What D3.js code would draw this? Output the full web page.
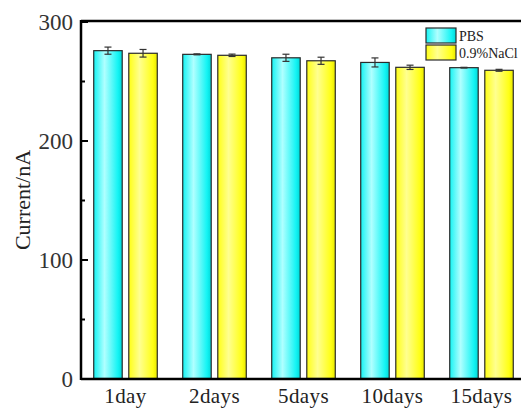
<!DOCTYPE html>
<html>
<head>
<meta charset="utf-8">
<script src="https://cdn.jsdelivr.net/npm/d3@7"></script>
<style>
  body { margin: 0; background: #fff; }
  svg { display: block; }
  text { font-family: "Liberation Serif", "Times New Roman", serif; fill: #222; }
</style>
</head>
<body>
<div id="chart"></div>
<script>
var categories = ["1day", "2days", "5days", "10days", "15days"];
var seriesNames = ["PBS", "0.9%NaCl"];
var pbsValues = [275.5, 272.4, 269.5, 265.6, 261.2];
var pbsErrors = [3.0, 0.4, 3.0, 3.8, 0.3];
var naclValues = [273.3, 271.6, 267.0, 261.5, 259.0];
var naclErrors = [3.2, 1.0, 3.0, 1.8, 0.8];
var yMajorTicks = [0, 100, 200, 300];
var yMinorTicks = [50, 150, 250];

var chartMain = function() {

	var width = 521, height = 409;
	var left = 81, top = 21, bottom = 379;

	var svg = d3.select("#chart").append("svg")
		.attr("width", width)
		.attr("height", height);

	var defs = svg.append("defs");

	//horizontal shading for bars, like the origin style
	var makeGradient = function(id, edge, light, dark) {
		var g = defs.append("linearGradient").attr("id", id)
			.attr("x1", "0%").attr("x2", "100%").attr("y1", "0%").attr("y2", "0%");
		g.append("stop").attr("offset", "0%").attr("stop-color", edge);
		g.append("stop").attr("offset", "38%").attr("stop-color", light);
		g.append("stop").attr("offset", "85%").attr("stop-color", edge);
		g.append("stop").attr("offset", "100%").attr("stop-color", dark);
	};
	makeGradient("gradCyan", "#14f4f4", "#b0ffff", "#00d8d8");
	makeGradient("gradYellow", "#ffff14", "#ffff90", "#e8e800");

	var x = d3.scaleLinear().domain([0.5, categories.length + 0.5]).range([left, 526]);
	var y = d3.scaleLinear().domain([0, 300]).range([378.5, 21.5]);

	var barWidth = x(0.32) - x(0);
	var offset = x(0.197) - x(0);

	var series = [
		{ name: seriesNames[0], values: pbsValues, errors: pbsErrors, fill: "url(#gradCyan)", shift: -offset },
		{ name: seriesNames[1], values: naclValues, errors: naclErrors, fill: "url(#gradYellow)", shift: offset }
	];

	series.forEach(function(s) {

		var g = svg.append("g");

		g.selectAll("rect")
			.data(s.values)
			.enter()
			.append("rect")
			.attr("x", function(d, i) { return x(i + 1) + s.shift - barWidth / 2; })
			.attr("y", function(d) { return y(d); })
			.attr("width", barWidth)
			.attr("height", function(d) { return y(0) - y(d); })
			.style("fill", s.fill)
			.style("stroke", "#2a2a2a")
			.style("stroke-width", 1.2);

		//error bars
		var eb = g.selectAll(".err")
			.data(s.values)
			.enter()
			.append("g")
			.attr("class", "err")
			.style("stroke", "#333")
			.style("stroke-width", 1.2);

		eb.append("line")
			.attr("x1", function(d, i) { return x(i + 1) + s.shift; })
			.attr("x2", function(d, i) { return x(i + 1) + s.shift; })
			.attr("y1", function(d, i) { return y(d + s.errors[i]); })
			.attr("y2", function(d, i) { return y(d - s.errors[i]); });

		[1, -1].forEach(function(sign) {
			eb.append("line")
				.attr("x1", function(d, i) { return x(i + 1) + s.shift - 3.5; })
				.attr("x2", function(d, i) { return x(i + 1) + s.shift + 3.5; })
				.attr("y1", function(d, i) { return y(d + sign * s.errors[i]); })
				.attr("y2", function(d, i) { return y(d + sign * s.errors[i]); });
		});
	});

	//y axis, ticks pointing inwards
	var yAxis = svg.append("g")
		.attr("transform", "translate(" + left + ",0)")
		.call(d3.axisLeft(y).tickValues(yMajorTicks).tickSize(-7).tickPadding(8).tickFormat(d3.format("d")));
	yAxis.select(".domain").remove();
	yAxis.selectAll("line").style("stroke", "#000").style("stroke-width", 2);
	yAxis.selectAll("text")
		.style("font-size", "23px")
		.style("font-family", "Liberation Serif, serif")
		.style("fill", "#333")
		.attr("dy", "0.36em");

	var yMinor = svg.append("g")
		.attr("transform", "translate(" + left + ",0)")
		.call(d3.axisLeft(y).tickValues(yMinorTicks).tickSize(-4).tickFormat(""));
	yMinor.select(".domain").remove();
	yMinor.selectAll("line").style("stroke", "#000").style("stroke-width", 2);

	//frame lines
	svg.append("line").attr("x1", left).attr("x2", left).attr("y1", top - 1).attr("y2", bottom + 1)
		.style("stroke", "#000").style("stroke-width", 2.5);
	svg.append("line").attr("x1", left).attr("x2", width).attr("y1", top).attr("y2", top)
		.style("stroke", "#000").style("stroke-width", 2.5);
	svg.append("line").attr("x1", left).attr("x2", width).attr("y1", bottom).attr("y2", bottom)
		.style("stroke", "#000").style("stroke-width", 2.5);

	//category labels
	svg.selectAll(".cat")
		.data(categories)
		.enter()
		.append("text")
		.attr("class", "cat")
		.attr("x", function(d, i) { return x(i + 1); })
		.attr("y", 403)
		.attr("text-anchor", "middle")
		.style("font-size", "21px")
		.style("letter-spacing", "0.4px")
		.text(function(d) { return d; });

	//y title
	svg.append("text")
		.attr("transform", "translate(30,200) rotate(-90)")
		.attr("text-anchor", "middle")
		.style("font-size", "22px")
		.text("Current/nA");

	//legend
	var legend = svg.append("g").attr("transform", "translate(426,28)");
	series.forEach(function(s, i) {
		legend.append("rect")
			.attr("x", 0)
			.attr("y", i * 17)
			.attr("width", 30)
			.attr("height", 15)
			.style("fill", s.fill)
			.style("stroke", "#2a2a2a")
			.style("stroke-width", 1.2);
		legend.append("text")
			.attr("x", 33)
			.attr("y", i * 17 + 12.5)
			.style("font-size", "14px")
			.text(s.name);
	});

};

chartMain();
</script>
</body>
</html>
